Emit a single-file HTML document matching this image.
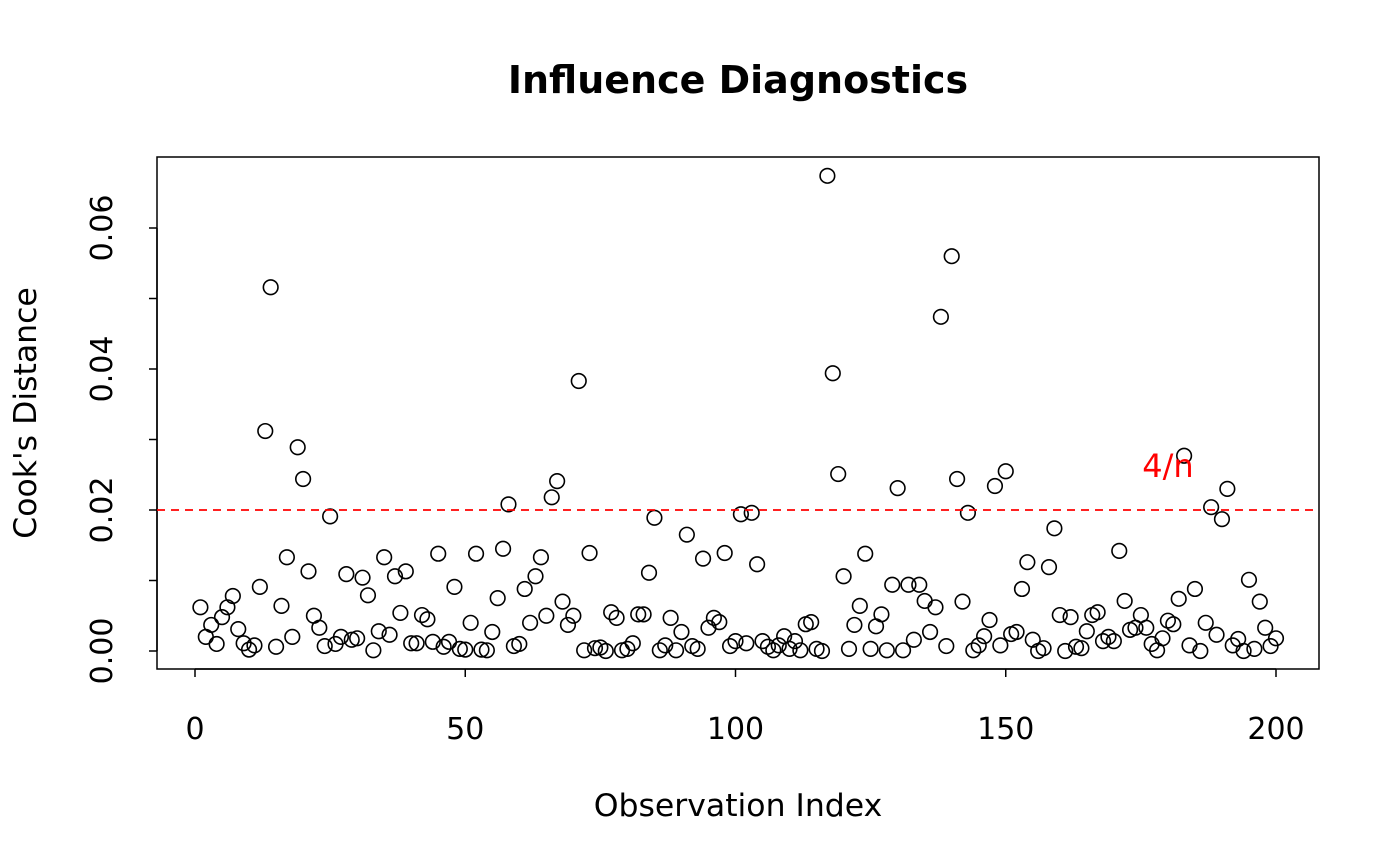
<!DOCTYPE html>
<html><head><meta charset="utf-8"><style>
html,body{margin:0;padding:0;background:#fff;}
svg{display:block;font-family:"DejaVu Sans","Liberation Sans",sans-serif;}
</style></head><body>
<svg id="chart" width="1400" height="866" viewBox="0 0 1400 866" xmlns="http://www.w3.org/2000/svg">
<text x="738" y="93" font-size="38" font-weight="bold" text-anchor="middle">Influence Diagnostics</text>
<rect x="157" y="157" width="1162" height="512" fill="none" stroke="#000" stroke-width="1.5"/>
<g id="xaxis"></g>
<g id="yaxis"></g>
<text x="738" y="816" font-size="31.5" text-anchor="middle">Observation Index</text>
<text transform="translate(36,413) rotate(-90)" font-size="31.5" text-anchor="middle">Cook's Distance</text>
<g id="points"></g>
<line id="thresh" x1="157" x2="1319" stroke="#f00" stroke-width="1.8" stroke-dasharray="8,6"/>
<text id="threshlabel" x="1168" font-size="32" fill="#f00" text-anchor="middle">4/n</text>
</svg>
<script>
const cooksD = [0.0062,0.0020,0.0037,0.0010,0.0048,0.0062,0.0078,0.0031,0.0011,0.0002,
0.0008,0.0091,0.0312,0.0516,0.0006,0.0064,0.0133,0.0020,0.0289,0.0244,
0.0113,0.0050,0.0033,0.0007,0.0191,0.0010,0.0020,0.0109,0.0016,0.0018,
0.0104,0.0079,0.0001,0.0028,0.0133,0.0023,0.0106,0.0054,0.0113,0.0011,
0.0011,0.0051,0.0045,0.0013,0.0138,0.0006,0.0013,0.0091,0.0003,0.0002,
0.0040,0.0138,0.0002,0.0001,0.0027,0.0075,0.0145,0.0208,0.0007,0.0010,
0.0088,0.0040,0.0106,0.0133,0.0050,0.0218,0.0241,0.0070,0.0037,0.0050,
0.0383,0.0001,0.0139,0.0004,0.0005,0.0000,0.0055,0.0047,0.0001,0.0003,
0.0011,0.0052,0.0052,0.0111,0.0189,0.0001,0.0008,0.0047,0.0001,0.0027,
0.0165,0.0007,0.0003,0.0131,0.0033,0.0047,0.0041,0.0139,0.0007,0.0014,
0.0194,0.0011,0.0196,0.0123,0.0014,0.0006,0.0001,0.0008,0.0021,0.0003,
0.0014,0.0001,0.0038,0.0041,0.0003,0.0000,0.0674,0.0394,0.0251,0.0106,
0.0003,0.0037,0.0064,0.0138,0.0003,0.0035,0.0052,0.0001,0.0094,0.0231,
0.0001,0.0094,0.0016,0.0094,0.0071,0.0027,0.0062,0.0474,0.0007,0.0560,
0.0244,0.0070,0.0196,0.0001,0.0008,0.0021,0.0044,0.0234,0.0008,0.0255,
0.0024,0.0027,0.0088,0.0126,0.0016,0.0000,0.0004,0.0119,0.0174,0.0051,
0.0000,0.0048,0.0006,0.0004,0.0028,0.0051,0.0055,0.0014,0.0020,0.0014,
0.0142,0.0071,0.0030,0.0033,0.0051,0.0033,0.0010,0.0001,0.0018,0.0043,
0.0038,0.0074,0.0277,0.0008,0.0088,0.0000,0.0040,0.0204,0.0023,0.0187,
0.0230,0.0008,0.0017,0.0000,0.0101,0.0003,0.0070,0.0033,0.0007,0.0018];
const xTicks = [0,50,100,150,200];
const yTicks = [0,0.01,0.02,0.03,0.04,0.05,0.06];
const yTickLabels = ["0.00","","0.02","","0.04","","0.06"];
const threshold = [0.02];

const NS="http://www.w3.org/2000/svg";
function xs(v){return 195+(v/200)*1081;}
function ys(v){return 651-(v/0.01)*70.5;}
function mk(tag,attrs,parent){const e=document.createElementNS(NS,tag);for(const k in attrs)e.setAttribute(k,attrs[k]);parent.appendChild(e);return e;}

const xg=document.getElementById('xaxis');
mk('line',{x1:xs(xTicks[0]),x2:xs(xTicks[xTicks.length-1]),y1:669,y2:669,stroke:'#000','stroke-width':1.5},xg);
xTicks.forEach(t=>{
  const l=mk('line',{x1:xs(t),x2:xs(t),y1:669,y2:677,stroke:'#000','stroke-width':1.5},xg);
  
  
  const tx=mk('text',{x:xs(t),y:739,'font-size':30,'text-anchor':'middle'},xg);
  tx.textContent=t;
  
  
});
const yg=document.getElementById('yaxis');
mk('line',{x1:157,x2:157,y1:ys(yTicks[0]),y2:ys(yTicks[yTicks.length-1]),stroke:'#000','stroke-width':1.5},yg);
yTicks.forEach((t,i)=>{
  const l=mk('line',{x1:149,x2:157,y1:ys(t),y2:ys(t),stroke:'#000','stroke-width':1.5},yg);
  
  
  if(yTickLabels[i]){
    const tx=mk('text',{transform:`translate(112,${ys(t)}) rotate(-90)`,'font-size':30,'text-anchor':'middle'},yg);
    tx.textContent=yTickLabels[i];
    
    
  }
});
const pg=document.getElementById('points');
cooksD.forEach((v,i)=>{
  const c=mk('circle',{cx:xs(i+1),cy:ys(v),r:7.3,fill:'none',stroke:'#000','stroke-width':1.6},pg);
  
  
});
const th=document.getElementById('thresh');
th.setAttribute('y1',ys(threshold[0]));th.setAttribute('y2',ys(threshold[0]));
document.getElementById('threshlabel').setAttribute('y',ys(threshold[0])-33);
</script>
</body></html>
